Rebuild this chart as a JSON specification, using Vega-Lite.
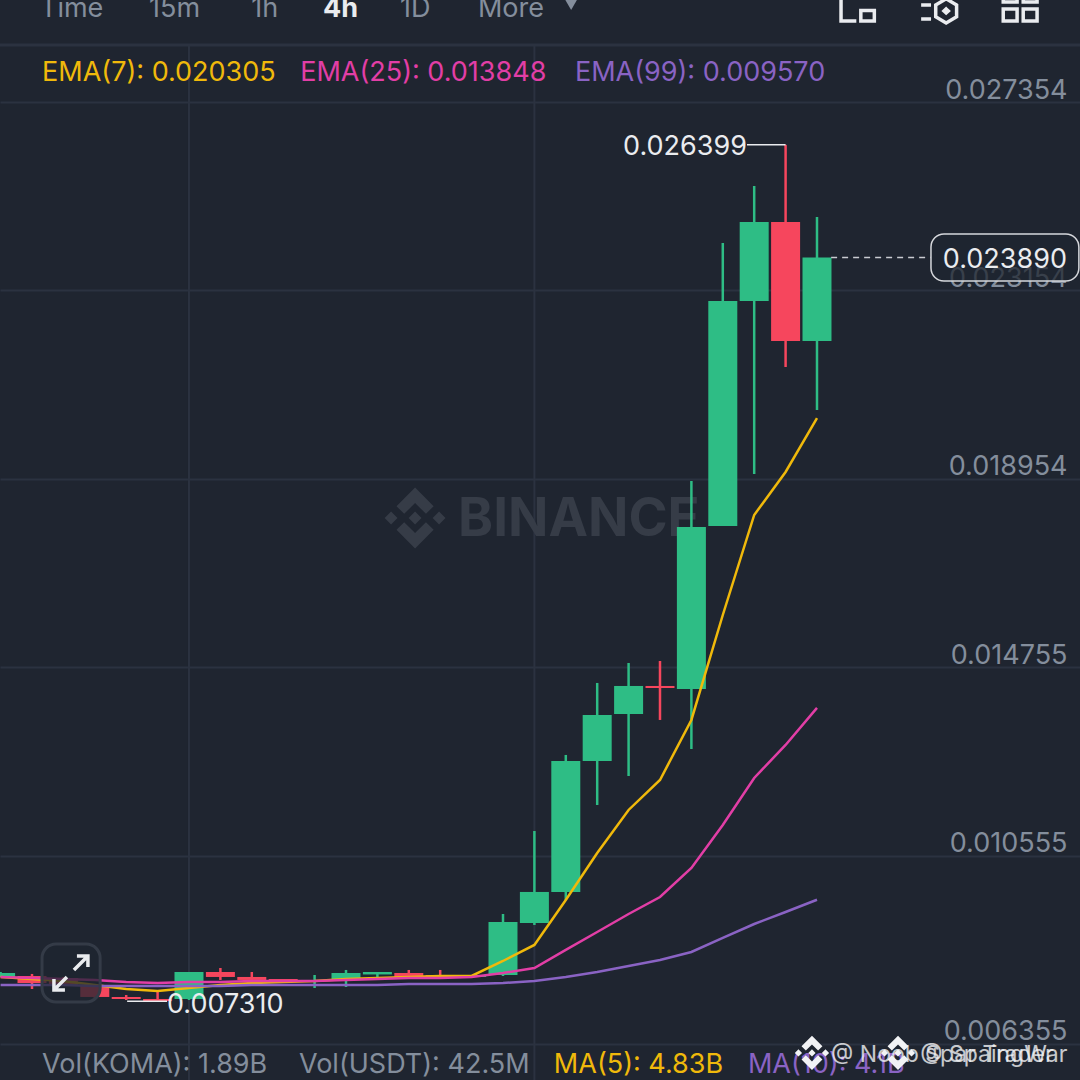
{
  "$schema": "https://vega.github.io/schema/vega-lite/v6.json",
  "width": 1080,
  "height": 1080,
  "padding": 0,
  "autosize": {"type": "fit", "contains": "padding"},
  "background": "#1f2530",
  "config": {
    "font": "Inter",
    "view": {"stroke": null},
    "axisX": {"disable": true},
    "axisY": {
      "grid": true,
      "gridColor": "#2b3240",
      "gridWidth": 2,
      "domain": false,
      "ticks": false,
      "labelColor": "#848e9c",
      "labelFont": "Inter",
      "labelFontSize": 27,
      "labelAlign": "right",
      "labelPadding": -13,
      "labelOffset": -12
    },
    "text": {"fontSize": 27, "font": "Inter", "align": "left", "dy": 2}
  },
  "datasets": {
    "candles": [
      {"candle": 0, "open": 0.007849, "close": 0.007938, "high": 0.00796, "low": 0.007849},
      {"candle": 1, "open": 0.007871, "close": 0.007715, "high": 0.007916, "low": 0.007581},
      {"candle": 2, "open": 0.007826, "close": 0.00767, "high": 0.007849, "low": 0.007648},
      {"candle": 3, "open": 0.007648, "close": 0.007403, "high": 0.00767, "low": 0.00738},
      {"candle": 4, "open": 0.007403, "close": 0.007358, "high": 0.007447, "low": 0.007336},
      {"candle": 5, "open": 0.007358, "close": 0.00731, "high": 0.007514, "low": 0.00731},
      {"candle": 6, "open": 0.007358, "close": 0.00796, "high": 0.00796, "low": 0.007336},
      {"candle": 7, "open": 0.00796, "close": 0.007849, "high": 0.008049, "low": 0.007782},
      {"candle": 8, "open": 0.007849, "close": 0.007782, "high": 0.00796, "low": 0.007759},
      {"candle": 9, "open": 0.007804, "close": 0.007737, "high": 0.007804, "low": 0.007737},
      {"candle": 10, "open": 0.007759, "close": 0.007782, "high": 0.007893, "low": 0.007603},
      {"candle": 11, "open": 0.007782, "close": 0.007938, "high": 0.008005, "low": 0.007625},
      {"candle": 12, "open": 0.007905, "close": 0.00796, "high": 0.00796, "low": 0.007826},
      {"candle": 13, "open": 0.007938, "close": 0.007849, "high": 0.008005, "low": 0.007826},
      {"candle": 14, "open": 0.007893, "close": 0.007849, "high": 0.008005, "low": 0.007826},
      {"candle": 15, "open": 0.007849, "close": 0.007893, "high": 0.007893, "low": 0.007849},
      {"candle": 16, "open": 0.007893, "close": 0.009075, "high": 0.009253, "low": 0.007871},
      {"candle": 17, "open": 0.009052, "close": 0.009744, "high": 0.011103, "low": 0.009008},
      {"candle": 18, "open": 0.009744, "close": 0.012664, "high": 0.012798, "low": 0.009565},
      {"candle": 19, "open": 0.012664, "close": 0.013689, "high": 0.014403, "low": 0.011683},
      {"candle": 20, "open": 0.013711, "close": 0.014336, "high": 0.014848, "low": 0.012329},
      {"candle": 21, "open": 0.014336, "close": 0.014291, "high": 0.014893, "low": 0.013578},
      {"candle": 22, "open": 0.014269, "close": 0.01788, "high": 0.018906, "low": 0.012931},
      {"candle": 23, "open": 0.017903, "close": 0.022918, "high": 0.024211, "low": 0.017903},
      {"candle": 24, "open": 0.022918, "close": 0.024679, "high": 0.025482, "low": 0.019062},
      {"candle": 25, "open": 0.024679, "close": 0.022026, "high": 0.026399, "low": 0.021447},
      {"candle": 26, "open": 0.022026, "close": 0.02389, "high": 0.024791, "low": 0.020488}
    ],
    "ema": [
      {"candle": 0, "series": "EMA7", "value": 0.007849},
      {"candle": 1, "series": "EMA7", "value": 0.007804},
      {"candle": 2, "series": "EMA7", "value": 0.007759},
      {"candle": 3, "series": "EMA7", "value": 0.00767},
      {"candle": 4, "series": "EMA7", "value": 0.007581},
      {"candle": 5, "series": "EMA7", "value": 0.007537},
      {"candle": 6, "series": "EMA7", "value": 0.007603},
      {"candle": 7, "series": "EMA7", "value": 0.00767},
      {"candle": 8, "series": "EMA7", "value": 0.007715},
      {"candle": 9, "series": "EMA7", "value": 0.007737},
      {"candle": 10, "series": "EMA7", "value": 0.007759},
      {"candle": 11, "series": "EMA7", "value": 0.007804},
      {"candle": 12, "series": "EMA7", "value": 0.007826},
      {"candle": 13, "series": "EMA7", "value": 0.007849},
      {"candle": 14, "series": "EMA7", "value": 0.007871},
      {"candle": 15, "series": "EMA7", "value": 0.007871},
      {"candle": 16, "series": "EMA7", "value": 0.008205},
      {"candle": 17, "series": "EMA7", "value": 0.008562},
      {"candle": 18, "series": "EMA7", "value": 0.009565},
      {"candle": 19, "series": "EMA7", "value": 0.010613},
      {"candle": 20, "series": "EMA7", "value": 0.011572},
      {"candle": 21, "series": "EMA7", "value": 0.01224},
      {"candle": 22, "series": "EMA7", "value": 0.013578},
      {"candle": 23, "series": "EMA7", "value": 0.015918},
      {"candle": 24, "series": "EMA7", "value": 0.018148},
      {"candle": 25, "series": "EMA7", "value": 0.019106},
      {"candle": 26, "series": "EMA7", "value": 0.020305},
      {"candle": 0, "series": "EMA25", "value": 0.007849},
      {"candle": 1, "series": "EMA25", "value": 0.007826},
      {"candle": 2, "series": "EMA25", "value": 0.007804},
      {"candle": 3, "series": "EMA25", "value": 0.007782},
      {"candle": 4, "series": "EMA25", "value": 0.007737},
      {"candle": 5, "series": "EMA25", "value": 0.007715},
      {"candle": 6, "series": "EMA25", "value": 0.007737},
      {"candle": 7, "series": "EMA25", "value": 0.007737},
      {"candle": 8, "series": "EMA25", "value": 0.007759},
      {"candle": 9, "series": "EMA25", "value": 0.007759},
      {"candle": 10, "series": "EMA25", "value": 0.007759},
      {"candle": 11, "series": "EMA25", "value": 0.007782},
      {"candle": 12, "series": "EMA25", "value": 0.007804},
      {"candle": 13, "series": "EMA25", "value": 0.007826},
      {"candle": 14, "series": "EMA25", "value": 0.007826},
      {"candle": 15, "series": "EMA25", "value": 0.007849},
      {"candle": 16, "series": "EMA25", "value": 0.007938},
      {"candle": 17, "series": "EMA25", "value": 0.008049},
      {"candle": 18, "series": "EMA25", "value": 0.008451},
      {"candle": 19, "series": "EMA25", "value": 0.008852},
      {"candle": 20, "series": "EMA25", "value": 0.009253},
      {"candle": 21, "series": "EMA25", "value": 0.009632},
      {"candle": 22, "series": "EMA25", "value": 0.010278},
      {"candle": 23, "series": "EMA25", "value": 0.011237},
      {"candle": 24, "series": "EMA25", "value": 0.012285},
      {"candle": 25, "series": "EMA25", "value": 0.013021},
      {"candle": 26, "series": "EMA25", "value": 0.013848},
      {"candle": 0, "series": "EMA99", "value": 0.00767},
      {"candle": 1, "series": "EMA99", "value": 0.00767},
      {"candle": 2, "series": "EMA99", "value": 0.00767},
      {"candle": 3, "series": "EMA99", "value": 0.007648},
      {"candle": 4, "series": "EMA99", "value": 0.007648},
      {"candle": 5, "series": "EMA99", "value": 0.007648},
      {"candle": 6, "series": "EMA99", "value": 0.007648},
      {"candle": 7, "series": "EMA99", "value": 0.007648},
      {"candle": 8, "series": "EMA99", "value": 0.00767},
      {"candle": 9, "series": "EMA99", "value": 0.00767},
      {"candle": 10, "series": "EMA99", "value": 0.00767},
      {"candle": 11, "series": "EMA99", "value": 0.00767},
      {"candle": 12, "series": "EMA99", "value": 0.00767},
      {"candle": 13, "series": "EMA99", "value": 0.007692},
      {"candle": 14, "series": "EMA99", "value": 0.007692},
      {"candle": 15, "series": "EMA99", "value": 0.007692},
      {"candle": 16, "series": "EMA99", "value": 0.007715},
      {"candle": 17, "series": "EMA99", "value": 0.007759},
      {"candle": 18, "series": "EMA99", "value": 0.007849},
      {"candle": 19, "series": "EMA99", "value": 0.00796},
      {"candle": 20, "series": "EMA99", "value": 0.008094},
      {"candle": 21, "series": "EMA99", "value": 0.008228},
      {"candle": 22, "series": "EMA99", "value": 0.008406},
      {"candle": 23, "series": "EMA99", "value": 0.008718},
      {"candle": 24, "series": "EMA99", "value": 0.00903},
      {"candle": 25, "series": "EMA99", "value": 0.009298},
      {"candle": 26, "series": "EMA99", "value": 0.00957}
    ]
  },
  "layer": [
    {
      "data": {"values": [{"candle": 6}, {"candle": 17}]},
      "mark": {"type": "rule", "color": "#2b3240", "strokeWidth": 2, "clip": true},
      "encoding": {
        "x": {"field": "candle", "type": "quantitative", "scale": {"domain": [-0.019, 34.376], "nice": false, "zero": false, "padding": 0}},
        "y": {
          "datum": 0.028625,
          "type": "quantitative",
          "scale": {"domain": [0.005552, 0.029628], "nice": false, "zero": false},
          "axis": {
            "orient": "right",
            "title": null,
            "values": [0.027354, 0.023154, 0.018954, 0.014755, 0.010555, 0.006355],
            "format": ".6f"
          }
        },
        "y2": {"datum": 0.005552}
      }
    },
    {
      "data": {"values": [{"edge": "header"}]},
      "mark": {"type": "rule", "color": "#2b3240", "strokeWidth": 3, "clip": true},
      "encoding": {"y": {"datum": 0.028625, "type": "quantitative"}}
    },
    {
      "data": {"values": [{"label": "BINANCE"}]},
      "mark": {"type": "text", "fontSize": 53, "fontWeight": "bold", "color": "#363c47"},
      "encoding": {
        "x": {"datum": 14.57, "type": "quantitative"},
        "y": {"datum": 0.01808, "type": "quantitative"},
        "text": {"field": "label"}
      }
    },
    {
      "data": {"values": [{"label": "logo"}]},
      "mark": {
        "type": "point",
        "filled": true,
        "color": "#363c47",
        "opacity": 1,
        "size": 4096,
        "shape": "M0,-.2L.2,0L0,.2L-.2,0ZM-.95,0L-.75,-.2L-.55,0L-.75,.2ZM.95,0L.75,-.2L.55,0L.75,.2ZM0,-.95L.58,-.37L.34,-.13L0,-.47L-.34,-.13L-.58,-.37ZM0,.95L.58,.37L.34,.13L0,.47L-.34,.13L-.58,.37Z"
      },
      "encoding": {
        "x": {"datum": 13.2, "type": "quantitative"},
        "y": {"datum": 0.01808, "type": "quantitative"}
      }
    },
    {
      "data": {"name": "candles"},
      "mark": {"type": "rule", "strokeWidth": 2.5, "clip": true},
      "encoding": {
        "x": {"field": "candle", "type": "quantitative"},
        "y": {"field": "low", "type": "quantitative"},
        "y2": {"field": "high"},
        "color": {"condition": {"test": "datum.close >= datum.open", "value": "#2ebd85"}, "value": "#f6465d"}
      }
    },
    {
      "data": {"name": "candles"},
      "mark": {"type": "bar", "size": 29, "orient": "vertical", "clip": true},
      "encoding": {
        "x": {"field": "candle", "type": "quantitative"},
        "y": {"field": "open", "type": "quantitative"},
        "y2": {"field": "close"},
        "color": {"condition": {"test": "datum.close >= datum.open", "value": "#2ebd85"}, "value": "#f6465d"}
      }
    },
    {
      "data": {"name": "ema"},
      "mark": {"type": "line", "strokeWidth": 2.5, "clip": true},
      "encoding": {
        "x": {"field": "candle", "type": "quantitative"},
        "y": {"field": "value", "type": "quantitative"},
        "color": {
          "field": "series",
          "type": "nominal",
          "scale": {"domain": ["EMA7", "EMA25", "EMA99"], "range": ["#f0b90b", "#e23ea6", "#8a63c4"]},
          "legend": null
        },
        "order": {"field": "candle"}
      }
    },
    {
      "data": {"values": [{"edge": "high"}]},
      "mark": {"type": "rule", "color": "#eaecef", "strokeWidth": 1.5},
      "encoding": {
        "x": {"datum": 23.77, "type": "quantitative"},
        "x2": {"datum": 25},
        "y": {"datum": 0.026399, "type": "quantitative"}
      }
    },
    {
      "data": {"values": [{"edge": "low"}]},
      "mark": {"type": "rule", "color": "#eaecef", "strokeWidth": 1.5},
      "encoding": {
        "x": {"datum": 4.03, "type": "quantitative"},
        "x2": {"datum": 5.3},
        "y": {"datum": 0.00731, "type": "quantitative"}
      }
    },
    {
      "data": {"values": [{"edge": "last"}]},
      "mark": {"type": "rule", "color": "#c9ccd1", "strokeWidth": 1.5, "strokeDash": [6, 5]},
      "encoding": {
        "x": {"datum": 26.45, "type": "quantitative"},
        "x2": {"datum": 29.62},
        "y": {"datum": 0.02389, "type": "quantitative"}
      }
    },
    {
      "data": {"values": [{"label": "last box"}]},
      "mark": {"type": "rect", "fill": "#1f2530", "fillOpacity": 0.75, "stroke": "#d5d7db", "strokeWidth": 1.5, "cornerRadius": 13},
      "encoding": {
        "x": {"datum": 29.63, "type": "quantitative"},
        "x2": {"datum": 34.34},
        "y": {"datum": 0.024412, "type": "quantitative"},
        "y2": {"datum": 0.023364}
      }
    },
    {
      "data": {"values": [{"label": "0.023890"}]},
      "mark": {"type": "text", "color": "#eaecef", "align": "right"},
      "encoding": {
        "x": {"datum": 33.96, "type": "quantitative"},
        "y": {"datum": 0.023877, "type": "quantitative"},
        "text": {"field": "label"}
      }
    },
    {
      "data": {"values": [{"label": "0.026399"}]},
      "mark": {"type": "text", "color": "#eaecef", "align": "right"},
      "encoding": {
        "x": {"datum": 23.77, "type": "quantitative"},
        "y": {"datum": 0.026399, "type": "quantitative"},
        "text": {"field": "label"}
      }
    },
    {
      "data": {"values": [{"label": "0.007310"}]},
      "mark": {"type": "text", "color": "#eaecef"},
      "encoding": {
        "x": {"datum": 5.3, "type": "quantitative"},
        "y": {"datum": 0.00727, "type": "quantitative"},
        "text": {"field": "label"}
      }
    },
    {
      "data": {"values": [{"label": "expand"}]},
      "mark": {"type": "rect", "fill": "#1f2530", "fillOpacity": 0.75, "stroke": "#343b47", "strokeWidth": 3, "cornerRadius": 14},
      "encoding": {
        "x": {"datum": 1.32, "type": "quantitative"},
        "x2": {"datum": 3.17},
        "y": {"datum": 0.008584, "type": "quantitative"},
        "y2": {"datum": 0.007292}
      }
    },
    {
      "data": {"values": [{"label": "expand arrows"}]},
      "mark": {
        "type": "point",
        "filled": false,
        "opacity": 1,
        "stroke": "#eaecef",
        "strokeWidth": 3.5,
        "size": 1600,
        "shape": "M.15,-.15L.85,-.85M.3,-.85L.85,-.85L.85,-.3M-.2,.2L-.85,.85M-.85,.3L-.85,.85L-.3,.85"
      },
      "encoding": {
        "x": {"datum": 2.24, "type": "quantitative"},
        "y": {"datum": 0.007938, "type": "quantitative"}
      }
    },
    {
      "data": {"values": [{"label": "Time"}]},
      "mark": {"type": "text", "color": "#848e9c", "baseline": "alphabetic", "clip": true},
      "encoding": {"x": {"datum": 1.255, "type": "quantitative"}, "y": {"datum": 0.029294, "type": "quantitative"}, "text": {"field": "label"}}
    },
    {
      "data": {"values": [{"label": "15m"}]},
      "mark": {"type": "text", "color": "#848e9c", "baseline": "alphabetic", "clip": true},
      "encoding": {"x": {"datum": 4.73, "type": "quantitative"}, "y": {"datum": 0.029294, "type": "quantitative"}, "text": {"field": "label"}}
    },
    {
      "data": {"values": [{"label": "1h"}]},
      "mark": {"type": "text", "color": "#848e9c", "baseline": "alphabetic", "clip": true},
      "encoding": {"x": {"datum": 7.98, "type": "quantitative"}, "y": {"datum": 0.029294, "type": "quantitative"}, "text": {"field": "label"}}
    },
    {
      "data": {"values": [{"label": "4h"}]},
      "mark": {"type": "text", "color": "#eaecef", "fontWeight": "bold", "baseline": "alphabetic", "clip": true},
      "encoding": {"x": {"datum": 10.27, "type": "quantitative"}, "y": {"datum": 0.029294, "type": "quantitative"}, "text": {"field": "label"}}
    },
    {
      "data": {"values": [{"label": "1D"}]},
      "mark": {"type": "text", "color": "#848e9c", "baseline": "alphabetic", "clip": true},
      "encoding": {"x": {"datum": 12.72, "type": "quantitative"}, "y": {"datum": 0.029294, "type": "quantitative"}, "text": {"field": "label"}}
    },
    {
      "data": {"values": [{"label": "More"}]},
      "mark": {"type": "text", "color": "#848e9c", "baseline": "alphabetic", "clip": true},
      "encoding": {"x": {"datum": 15.2, "type": "quantitative"}, "y": {"datum": 0.029294, "type": "quantitative"}, "text": {"field": "label"}}
    },
    {
      "data": {"values": [{"label": "more arrow"}]},
      "mark": {"type": "point", "shape": "triangle-down", "filled": true, "opacity": 1, "color": "#848e9c", "size": 260, "clip": true},
      "encoding": {"x": {"datum": 18.17, "type": "quantitative"}, "y": {"datum": 0.029561, "type": "quantitative"}}
    },
    {
      "data": {"values": [{"label": "layout icon"}]},
      "mark": {
        "type": "point", "filled": false, "opacity": 1, "stroke": "#eaecef", "strokeWidth": 3.5, "size": 1296, "clip": true,
        "shape": "M-.95,-1L-.95,.72L-.1,.72M.15,.14L.9,.14L.9,.72L.15,.72ZM.7,-.6L.9,-.6L.9,-.9M-.45,-.6L-.1,-.6"
      },
      "encoding": {"x": {"datum": 27.31, "type": "quantitative"}, "y": {"datum": 0.02945, "type": "quantitative"}}
    },
    {
      "data": {"values": [{"label": "indicator icon"}]},
      "mark": {
        "type": "point", "filled": false, "opacity": 1, "stroke": "#eaecef", "strokeWidth": 3.5, "size": 1296, "clip": true,
        "shape": "M.39,-.62L.97,-.28L.97,.38L.39,.72L-.19,.38L-.19,-.28ZM-1,-.28L-.45,-.28M-1,.5L-.45,.5M.39,-.06L.51,.05L.39,.16L.27,.05Z"
      },
      "encoding": {"x": {"datum": 29.89, "type": "quantitative"}, "y": {"datum": 0.029405, "type": "quantitative"}}
    },
    {
      "data": {"values": [{"label": "grid icon"}]},
      "mark": {
        "type": "point", "filled": false, "opacity": 1, "stroke": "#eaecef", "strokeWidth": 3.5, "size": 1296, "clip": true,
        "shape": "M-.94,-.05L-.17,-.05L-.17,.61L-.94,.61ZM.17,-.05L.94,-.05L.94,.61L.17,.61ZM-.94,-1.2L-.17,-1.2L-.17,-.44L-.94,-.44ZM.17,-1.2L.94,-1.2L.94,-.44L.17,-.44Z"
      },
      "encoding": {"x": {"datum": 32.47, "type": "quantitative"}, "y": {"datum": 0.029405, "type": "quantitative"}}
    },
    {
      "data": {"values": [{"label": "EMA(7): 0.020305"}]},
      "mark": {"type": "text", "color": "#f0b90b"},
      "encoding": {"x": {"datum": 1.32, "type": "quantitative"}, "y": {"datum": 0.028045, "type": "quantitative"}, "text": {"field": "label"}}
    },
    {
      "data": {"values": [{"label": "EMA(25): 0.013848"}]},
      "mark": {"type": "text", "color": "#e23ea6"},
      "encoding": {"x": {"datum": 9.54, "type": "quantitative"}, "y": {"datum": 0.028045, "type": "quantitative"}, "text": {"field": "label"}}
    },
    {
      "data": {"values": [{"label": "EMA(99): 0.009570"}]},
      "mark": {"type": "text", "color": "#8a63c4"},
      "encoding": {"x": {"datum": 18.29, "type": "quantitative"}, "y": {"datum": 0.028045, "type": "quantitative"}, "text": {"field": "label"}}
    },
    {
      "data": {"values": [{"label": "Vol(KOMA): 1.89B"}]},
      "mark": {"type": "text", "color": "#848e9c"},
      "encoding": {"x": {"datum": 1.32, "type": "quantitative"}, "y": {"datum": 0.005931, "type": "quantitative"}, "text": {"field": "label"}}
    },
    {
      "data": {"values": [{"label": "Vol(USDT): 42.5M"}]},
      "mark": {"type": "text", "color": "#848e9c"},
      "encoding": {"x": {"datum": 9.5, "type": "quantitative"}, "y": {"datum": 0.005931, "type": "quantitative"}, "text": {"field": "label"}}
    },
    {
      "data": {"values": [{"label": "MA(5): 4.83B"}]},
      "mark": {"type": "text", "color": "#f0b90b"},
      "encoding": {"x": {"datum": 17.62, "type": "quantitative"}, "y": {"datum": 0.005931, "type": "quantitative"}, "text": {"field": "label"}}
    },
    {
      "data": {"values": [{"label": "MA(10): 4.1B"}]},
      "mark": {"type": "text", "color": "#8a63c4"},
      "encoding": {"x": {"datum": 23.8, "type": "quantitative"}, "y": {"datum": 0.005931, "type": "quantitative"}, "text": {"field": "label"}}
    },
    {
      "data": {"values": [{"label": "mark one"}]},
      "mark": {
        "type": "point", "filled": true, "opacity": 1, "color": "#f2f3f5", "size": 1300,
        "shape": "M0,-.2L.2,0L0,.2L-.2,0ZM-.95,0L-.75,-.2L-.55,0L-.75,.2ZM.95,0L.75,-.2L.55,0L.75,.2ZM0,-.95L.58,-.37L.34,-.13L0,-.47L-.34,-.13L-.58,-.37ZM0,.95L.58,.37L.34,.13L0,.47L-.34,.13L-.58,.37Z"
      },
      "encoding": {"x": {"datum": 25.84, "type": "quantitative"}, "y": {"datum": 0.006155, "type": "quantitative"}}
    },
    {
      "data": {"values": [{"label": "mark two"}]},
      "mark": {
        "type": "point", "filled": true, "opacity": 1, "color": "#f2f3f5", "size": 1300,
        "shape": "M0,-.2L.2,0L0,.2L-.2,0ZM-.95,0L-.75,-.2L-.55,0L-.75,.2ZM.95,0L.75,-.2L.55,0L.75,.2ZM0,-.95L.58,-.37L.34,-.13L0,-.47L-.34,-.13L-.58,-.37ZM0,.95L.58,.37L.34,.13L0,.47L-.34,.13L-.58,.37Z"
      },
      "encoding": {"x": {"datum": 28.58, "type": "quantitative"}, "y": {"datum": 0.006155, "type": "quantitative"}}
    },
    {
      "data": {"values": [{"label": "@ Noob Spar Trader"}]},
      "mark": {"type": "text", "color": "#f2f3f5", "fontSize": 23, "opacity": 0.8},
      "encoding": {"x": {"datum": 26.45, "type": "quantitative"}, "y": {"datum": 0.006155, "type": "quantitative"}, "text": {"field": "label"}}
    },
    {
      "data": {"values": [{"label": "@ SpaingWar"}]},
      "mark": {"type": "text", "color": "#f2f3f5", "fontSize": 23, "opacity": 0.8},
      "encoding": {"x": {"datum": 29.29, "type": "quantitative"}, "y": {"datum": 0.006155, "type": "quantitative"}, "text": {"field": "label"}}
    }
  ]
}
